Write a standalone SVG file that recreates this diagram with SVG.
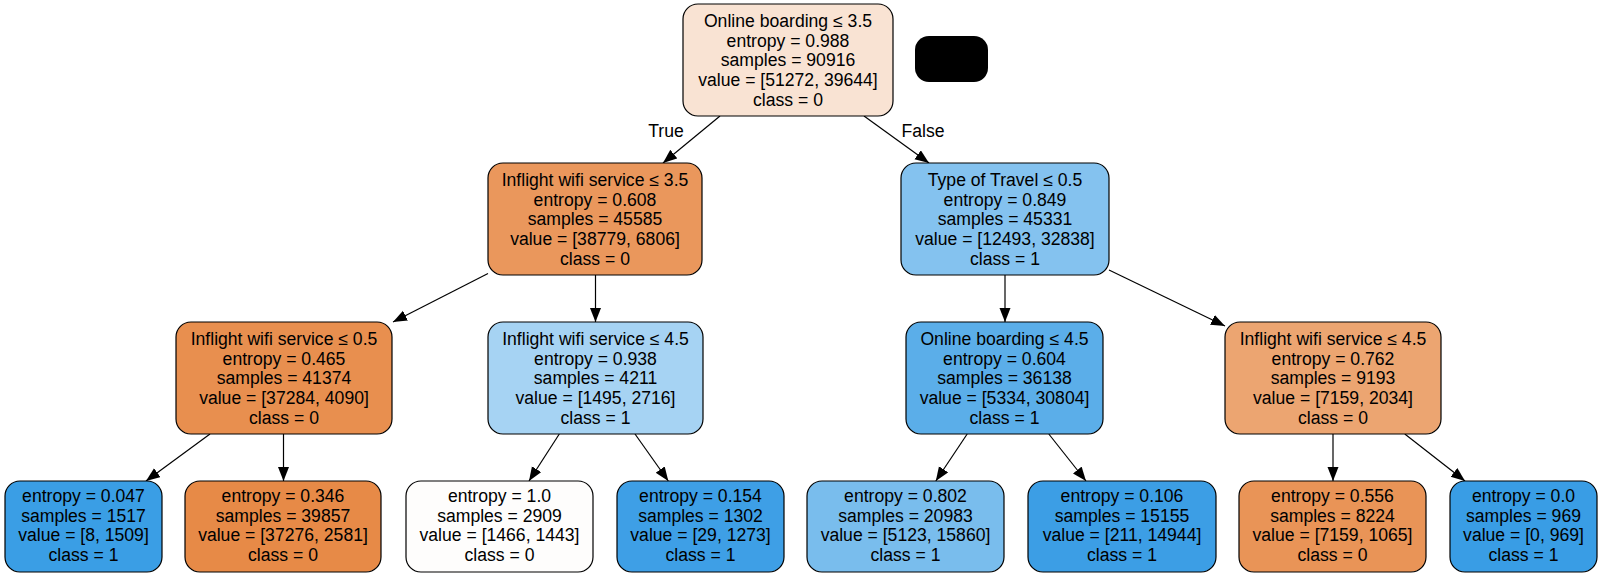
<svg xmlns="http://www.w3.org/2000/svg" width="1602" height="577" viewBox="0 0 1602 577">
<style>
.n rect{stroke:#000;stroke-width:1.2}
text{font-family:"Liberation Sans",Arial,sans-serif;font-size:17.6px;fill:#000;text-anchor:middle}
.e line{stroke:#000;stroke-width:1.2}
</style>
<defs>
<marker id="ah" markerUnits="userSpaceOnUse" markerWidth="15" markerHeight="12" refX="14" refY="5.5" orient="auto">
<path d="M0,0 L14,5.5 L0,11 z" fill="#000"/>
</marker>
</defs>
<rect x="0" y="0" width="1602" height="577" fill="#fff"/>
<g class="e">
<line x1="720" y1="116" x2="663" y2="163" marker-end="url(#ah)"/>
<line x1="864" y1="116" x2="929" y2="163" marker-end="url(#ah)"/>
<line x1="488" y1="273.5" x2="393" y2="322" marker-end="url(#ah)"/>
<line x1="595.5" y1="275" x2="595.5" y2="322" marker-end="url(#ah)"/>
<line x1="1005" y1="275" x2="1005" y2="322" marker-end="url(#ah)"/>
<line x1="1109" y1="270" x2="1225" y2="326" marker-end="url(#ah)"/>
<line x1="210" y1="434" x2="146" y2="481" marker-end="url(#ah)"/>
<line x1="283.5" y1="434" x2="283.5" y2="481" marker-end="url(#ah)"/>
<line x1="559.3" y1="434" x2="529" y2="481" marker-end="url(#ah)"/>
<line x1="635" y1="434" x2="668.3" y2="481" marker-end="url(#ah)"/>
<line x1="967.2" y1="434" x2="935.8" y2="481" marker-end="url(#ah)"/>
<line x1="1048.8" y1="434" x2="1086" y2="481" marker-end="url(#ah)"/>
<line x1="1333" y1="434" x2="1333" y2="481" marker-end="url(#ah)"/>
<line x1="1404.8" y1="434" x2="1465" y2="481" marker-end="url(#ah)"/>
<text x="666" y="137">True</text>
<text x="923" y="137">False</text>
</g>
<g id="legend"><rect x="915" y="36" width="73" height="46" rx="14" fill="#000"/></g>
<g id="n0" class="n"><rect x="683" y="4" width="210" height="112" rx="15" fill="#f9e3d3"/>
<text x="788" y="27">Online boarding ≤ 3.5</text><text x="788" y="46.7">entropy = 0.988</text><text x="788" y="66.4">samples = 90916</text><text x="788" y="86.1">value = [51272, 39644]</text><text x="788" y="105.8">class = 0</text></g>
<g id="n1" class="n"><rect x="488" y="163" width="214" height="112" rx="15" fill="#ea975c"/>
<text x="595" y="186">Inflight wifi service ≤ 3.5</text><text x="595" y="205.7">entropy = 0.608</text><text x="595" y="225.4">samples = 45585</text><text x="595" y="245.1">value = [38779, 6806]</text><text x="595" y="264.8">class = 0</text></g>
<g id="n8" class="n"><rect x="901" y="163" width="208" height="112" rx="15" fill="#84c2ef"/>
<text x="1005" y="186">Type of Travel ≤ 0.5</text><text x="1005" y="205.7">entropy = 0.849</text><text x="1005" y="225.4">samples = 45331</text><text x="1005" y="245.1">value = [12493, 32838]</text><text x="1005" y="264.8">class = 1</text></g>
<g id="n2" class="n"><rect x="176" y="322" width="216" height="112" rx="15" fill="#e88f4f"/>
<text x="284" y="345">Inflight wifi service ≤ 0.5</text><text x="284" y="364.7">entropy = 0.465</text><text x="284" y="384.4">samples = 41374</text><text x="284" y="404.1">value = [37284, 4090]</text><text x="284" y="423.8">class = 0</text></g>
<g id="n5" class="n"><rect x="488" y="322" width="215" height="112" rx="15" fill="#a6d3f3"/>
<text x="595.5" y="345">Inflight wifi service ≤ 4.5</text><text x="595.5" y="364.7">entropy = 0.938</text><text x="595.5" y="384.4">samples = 4211</text><text x="595.5" y="404.1">value = [1495, 2716]</text><text x="595.5" y="423.8">class = 1</text></g>
<g id="n9" class="n"><rect x="906" y="322" width="197" height="112" rx="15" fill="#5baee9"/>
<text x="1004.5" y="345">Online boarding ≤ 4.5</text><text x="1004.5" y="364.7">entropy = 0.604</text><text x="1004.5" y="384.4">samples = 36138</text><text x="1004.5" y="404.1">value = [5334, 30804]</text><text x="1004.5" y="423.8">class = 1</text></g>
<g id="n12" class="n"><rect x="1225" y="322" width="216" height="112" rx="15" fill="#eca571"/>
<text x="1333" y="345">Inflight wifi service ≤ 4.5</text><text x="1333" y="364.7">entropy = 0.762</text><text x="1333" y="384.4">samples = 9193</text><text x="1333" y="404.1">value = [7159, 2034]</text><text x="1333" y="423.8">class = 0</text></g>
<g id="n3" class="n"><rect x="5" y="481" width="157" height="91" rx="15" fill="#3a9ee5"/>
<text x="83.5" y="502">entropy = 0.047</text><text x="83.5" y="521.7">samples = 1517</text><text x="83.5" y="541.4">value = [8, 1509]</text><text x="83.5" y="561.1">class = 1</text></g>
<g id="n4" class="n"><rect x="185" y="481" width="196" height="91" rx="15" fill="#e78a47"/>
<text x="283" y="502">entropy = 0.346</text><text x="283" y="521.7">samples = 39857</text><text x="283" y="541.4">value = [37276, 2581]</text><text x="283" y="561.1">class = 0</text></g>
<g id="n6" class="n"><rect x="406" y="481" width="187" height="91" rx="15" fill="#fefdfc"/>
<text x="499.5" y="502">entropy = 1.0</text><text x="499.5" y="521.7">samples = 2909</text><text x="499.5" y="541.4">value = [1466, 1443]</text><text x="499.5" y="561.1">class = 0</text></g>
<g id="n7" class="n"><rect x="617" y="481" width="167" height="91" rx="15" fill="#3e9fe6"/>
<text x="700.5" y="502">entropy = 0.154</text><text x="700.5" y="521.7">samples = 1302</text><text x="700.5" y="541.4">value = [29, 1273]</text><text x="700.5" y="561.1">class = 1</text></g>
<g id="n10" class="n"><rect x="807" y="481" width="197" height="91" rx="15" fill="#79bded"/>
<text x="905.5" y="502">entropy = 0.802</text><text x="905.5" y="521.7">samples = 20983</text><text x="905.5" y="541.4">value = [5123, 15860]</text><text x="905.5" y="561.1">class = 1</text></g>
<g id="n11" class="n"><rect x="1028" y="481" width="188" height="91" rx="15" fill="#3c9ee5"/>
<text x="1122" y="502">entropy = 0.106</text><text x="1122" y="521.7">samples = 15155</text><text x="1122" y="541.4">value = [211, 14944]</text><text x="1122" y="561.1">class = 1</text></g>
<g id="n13" class="n"><rect x="1239" y="481" width="187" height="91" rx="15" fill="#e99457"/>
<text x="1332.5" y="502">entropy = 0.556</text><text x="1332.5" y="521.7">samples = 8224</text><text x="1332.5" y="541.4">value = [7159, 1065]</text><text x="1332.5" y="561.1">class = 0</text></g>
<g id="n14" class="n"><rect x="1450" y="481" width="147" height="91" rx="15" fill="#399de5"/>
<text x="1523.5" y="502">entropy = 0.0</text><text x="1523.5" y="521.7">samples = 969</text><text x="1523.5" y="541.4">value = [0, 969]</text><text x="1523.5" y="561.1">class = 1</text></g>
</svg>
